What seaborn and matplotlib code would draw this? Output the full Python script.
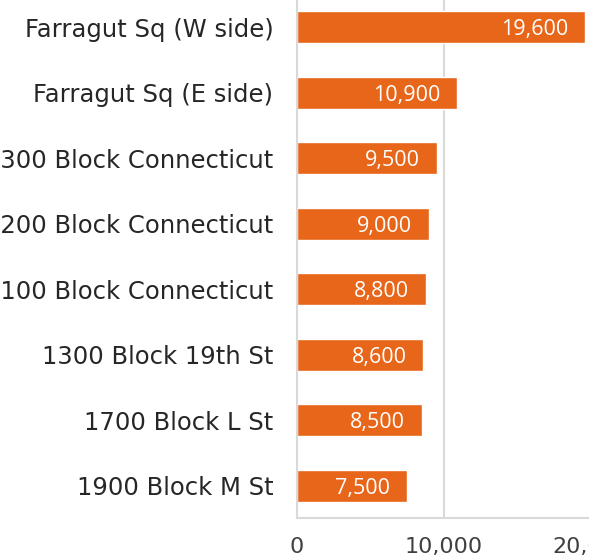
import matplotlib.pyplot as plt
import seaborn as sns
import pandas as pd

locations = ["Farragut Sq (W side)", "Farragut Sq (E side)", "1300 Block Connecticut",
             "1200 Block Connecticut", "1100 Block Connecticut", "1300 Block 19th St",
             "1700 Block L St", "1900 Block M St"]
counts = [19600, 10900, 9500, 9000, 8800, 8600, 8500, 7500]

df = pd.DataFrame({"location": locations, "count": counts})

sns.set_style("white")
plt.rcParams['font.family'] = ['DejaVu Sans']

fig = plt.figure(figsize=(5.89, 5.60), dpi=100)
ax = fig.add_axes([297 / 589, 42 / 560, 294 / 589, 523 / 560])

sns.barplot(data=df, x="count", y="location", color="#E8661A", saturation=1,
            width=0.49, ax=ax)

ax.set_xlim(0, 20000)
ax.set_ylim(7.49, -0.49)
ax.set_xticks([0, 10000, 20000])
ax.set_xticklabels(["0", "10,000", "20,000"])
ax.xaxis.grid(True, color="#D9D9D9", linewidth=1.5)
ax.set_axisbelow(True)
ax.set_xlabel("")
ax.set_ylabel("")

for s in ["top", "right"]:
    ax.spines[s].set_visible(False)
ax.spines["left"].set_color("#D9D9D9")
ax.spines["left"].set_linewidth(1.5)
ax.spines["bottom"].set_color("#D9D9D9")
ax.spines["bottom"].set_linewidth(1.5)

ax.tick_params(axis="x", length=6, width=1.5, color="#D9D9D9", labelsize=16,
               labelcolor="#404040", pad=8)
ax.tick_params(axis="y", length=0, labelsize=17.5, labelcolor="#262626", pad=17)

for i, v in enumerate(counts):
    ax.text(v - 1150, i, f"{v:,}", ha="right", va="center_baseline", color="white",
            fontsize=15.5, family=["Open Sans", "DejaVu Sans"])

fig.savefig("out.png", dpi=100)
